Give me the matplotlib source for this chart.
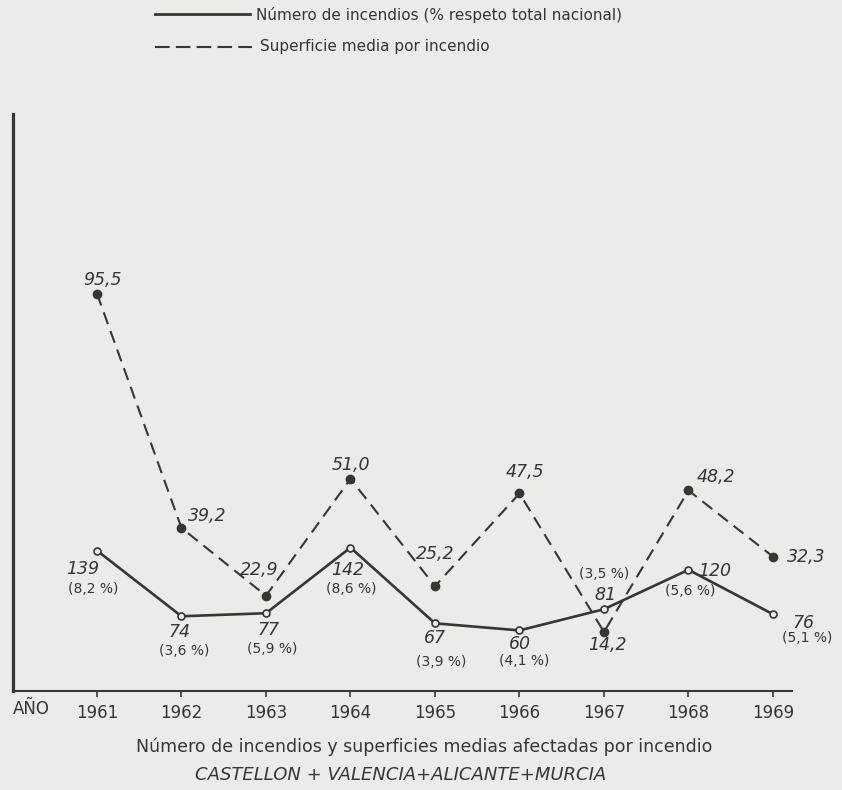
import matplotlib
matplotlib.use("Agg")
import matplotlib.pyplot as plt
from matplotlib.lines import Line2D

# Data
years = [1961, 1962, 1963, 1964, 1965, 1966, 1967, 1968, 1969]
num_incendios = [139, 74, 77, 142, 67, 60, 81, 120, 76]
pct_nacional = ["8,2", "3,6", "5,9", "8,6", "3,9", "4,1", "3,5", "5,6", "5,1"]
superficie_media = [95.5, 39.2, 22.9, 51.0, 25.2, 47.5, 14.2, 48.2, 32.3]

# label offsets in pixels (dx, dy up), kept apart from the data
sup_off = [(5, 14, "center"), (6, 12, "left"), (-7, 26, "center"), (0, 14, "center"),
           (0, 32, "center"), (5, 21, "center"), (3, -13, "center"), (8, 13, "left"),
           (14, 0, "left")]
num_off = [(-14, -18), (-2, -16), (2, -17), (-3, -22), (0, -15), (0, -14), (1, 14),
           (26, -1), (30, -9)]
pct_off = [(-4, -38), (3, -35), (6, -36), (1, -41), (6, -39), (5, -31), (0, 35),
           (2, -21), (34, -24)]

PAPER = "#ebebe7"
INK = "#363636"
PX = 0.72  # points per pixel at dpi 100
NARROW = ["Liberation Sans Narrow", "DejaVu Sans"]

fig = plt.figure(figsize=(8.42, 7.9), dpi=100, facecolor=PAPER)
ax = fig.add_axes([13 / 842, 99 / 790, 779 / 842, 577 / 790])
ax.set_facecolor("none")
ax2 = ax.twinx()
ax2.set_facecolor("none")

# superficie media (dashed, filled dots)
ax.plot(years, superficie_media, color=INK, lw=1.5, ls=(0, (6, 3.5)),
        marker="o", ms=6, mfc=INK, mec=INK, zorder=3)
# numero de incendios (solid, open circles)
ax2.plot(years, num_incendios, color=INK, lw=1.9, marker="o", ms=5,
         mfc=PAPER, mec=INK, mew=1.2, zorder=3)

ax.set_xlim(1960.006, 1969.225)
ax.set_ylim(0, 577 / 4.16)
ax2.set_ylim(0, 577 / 1.01)

for s in ["top", "right"]:
    ax.spines[s].set_visible(False)
for s in ax2.spines.values():
    s.set_visible(False)
ax.spines["left"].set_linewidth(2.3)
ax.spines["left"].set_color(INK)
ax.spines["bottom"].set_linewidth(1.5)
ax.spines["bottom"].set_color(INK)

ax.set_yticks([])
ax2.set_yticks([])
ax.set_xticks(years)
ax.set_xticklabels([str(y) for y in years], family=NARROW, fontsize=12, color=INK)
ax.tick_params(axis="x", direction="out", length=4, width=1.2, color=INK, pad=5)

for y, v, (dx, dy, ha) in zip(years, superficie_media, sup_off):
    ax.annotate(f"{v:.1f}".replace(".", ","), (y, v), xytext=(dx * PX, dy * PX),
                textcoords="offset points", ha=ha, va="center", fontsize=12.5,
                style="italic", color=INK)

for y, n, p, (dx, dy), (px_, py_) in zip(years, num_incendios, pct_nacional, num_off, pct_off):
    ax2.annotate(str(n), (y, n), xytext=(dx * PX, dy * PX), textcoords="offset points",
                 ha="center", va="center", fontsize=12.5, style="italic", color=INK)
    ax2.annotate(f"({p} %)", (y, n), xytext=(px_ * PX, py_ * PX), textcoords="offset points",
                 ha="center", va="center", fontsize=10, color=INK)

fig.text(13 / 842, 1 - 709 / 790, "AÑO", family=NARROW, fontsize=12, color=INK,
         ha="left", va="center")

# legend drawn by hand as in the original
fig.add_artist(Line2D([155 / 842, 250 / 842], [1 - 14 / 790, 1 - 14 / 790],
                      color=INK, lw=2.0, transform=fig.transFigure))
fig.add_artist(Line2D([155 / 842, 252 / 842], [1 - 47 / 790, 1 - 47 / 790],
                      color=INK, lw=1.5, ls=(0, (7, 3)), transform=fig.transFigure))
fig.text(256 / 842, 1 - 15 / 790, "Número de incendios (% respeto total nacional)",
         fontsize=11, color=INK, ha="left", va="center")
fig.text(260 / 842, 1 - 47 / 790, "Superficie media por incendio",
         fontsize=11, color=INK, ha="left", va="center")

fig.text(424 / 842, 1 - 747 / 790,
         "Número de incendios y superficies medias afectadas por incendio",
         fontsize=12.5, color=INK, ha="center", va="center")
fig.text(401 / 842, 1 - 775 / 790, "CASTELLON + VALENCIA+ALICANTE+MURCIA",
         fontsize=13, style="italic", color=INK, ha="center", va="center")

fig.savefig("out.png", dpi=100, facecolor=PAPER)
